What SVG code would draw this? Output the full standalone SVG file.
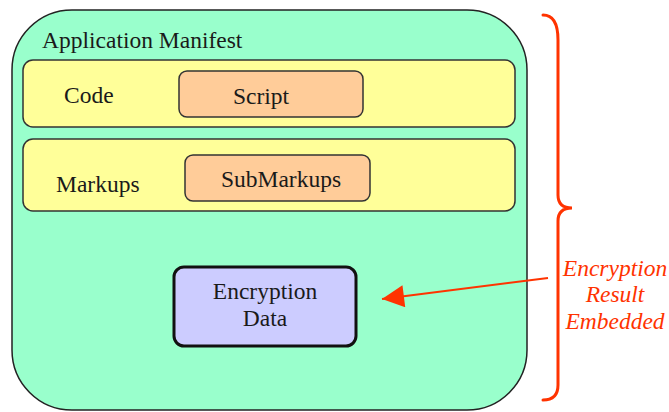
<svg xmlns="http://www.w3.org/2000/svg" width="669" height="412" viewBox="0 0 669 412">
  <style>
    .lbl { font-family: "Liberation Serif", "Times New Roman", serif; font-size: 23.5px; fill: #1a1a1a; }
    .mid { text-anchor: middle; }
    .note { font-family: "Liberation Serif", "Times New Roman", serif; font-size: 23.5px; font-style: italic; fill: #ff3300; text-anchor: middle; }
    .band { fill: #ffff99; stroke: #333; stroke-width: 1.5; }
    .item { fill: #ffcc99; stroke: #333; stroke-width: 1.5; }
  </style>
  <defs>
    <marker id="arrowhead" viewBox="0 0 10 10" refX="10" refY="5" markerWidth="23" markerHeight="22" markerUnits="userSpaceOnUse" orient="auto">
      <path d="M0,0 L10,5 L0,10 Z" fill="#ff3300"/>
    </marker>
  </defs>
  <rect width="669" height="412" fill="#ffffff"/>

  <g id="manifest">
    <rect x="12" y="10" width="515" height="400" rx="60" ry="60" fill="#99ffcc" stroke="#222" stroke-width="1.5"/>
    <text class="lbl" x="42" y="48">Application Manifest</text>
  </g>

  <g id="code">
    <rect class="band" x="23" y="60" width="492" height="67" rx="10" ry="10"/>
    <text class="lbl" x="64" y="103">Code</text>
  </g>

  <g id="script">
    <rect class="item" x="179" y="71" width="184" height="46" rx="8" ry="8"/>
    <text class="lbl mid" x="261" y="104">Script</text>
  </g>

  <g id="markups">
    <rect class="band" x="23" y="139" width="492" height="72" rx="10" ry="10"/>
    <text class="lbl" x="56" y="192">Markups</text>
  </g>

  <g id="submarkups">
    <rect class="item" x="185" y="155" width="185" height="46" rx="8" ry="8"/>
    <text class="lbl mid" x="281" y="187">SubMarkups</text>
  </g>

  <g id="encryption-data">
    <rect x="174" y="267" width="182" height="79" rx="10" ry="10" fill="#ccccff" stroke="#111" stroke-width="3"/>
    <text class="lbl mid" x="265" y="299">Encryption</text>
    <text class="lbl mid" x="265" y="326">Data</text>
  </g>

  <g id="connectors">
    <path d="M543,15 Q558,15 558,40 L558,195 Q558,208 572,208 Q558,208 558,221 L558,385 Q558,400 543,400" fill="none" stroke="#ff3300" stroke-width="3" stroke-linecap="round"/>
    <line x1="548" y1="278" x2="382" y2="299" stroke="#ff3300" stroke-width="2" marker-end="url(#arrowhead)"/>
  </g>

  <g id="note">
    <text class="note" x="615" y="276">Encryption</text>
    <text class="note" x="615" y="302">Result</text>
    <text class="note" x="615" y="329">Embedded</text>
  </g>
</svg>
